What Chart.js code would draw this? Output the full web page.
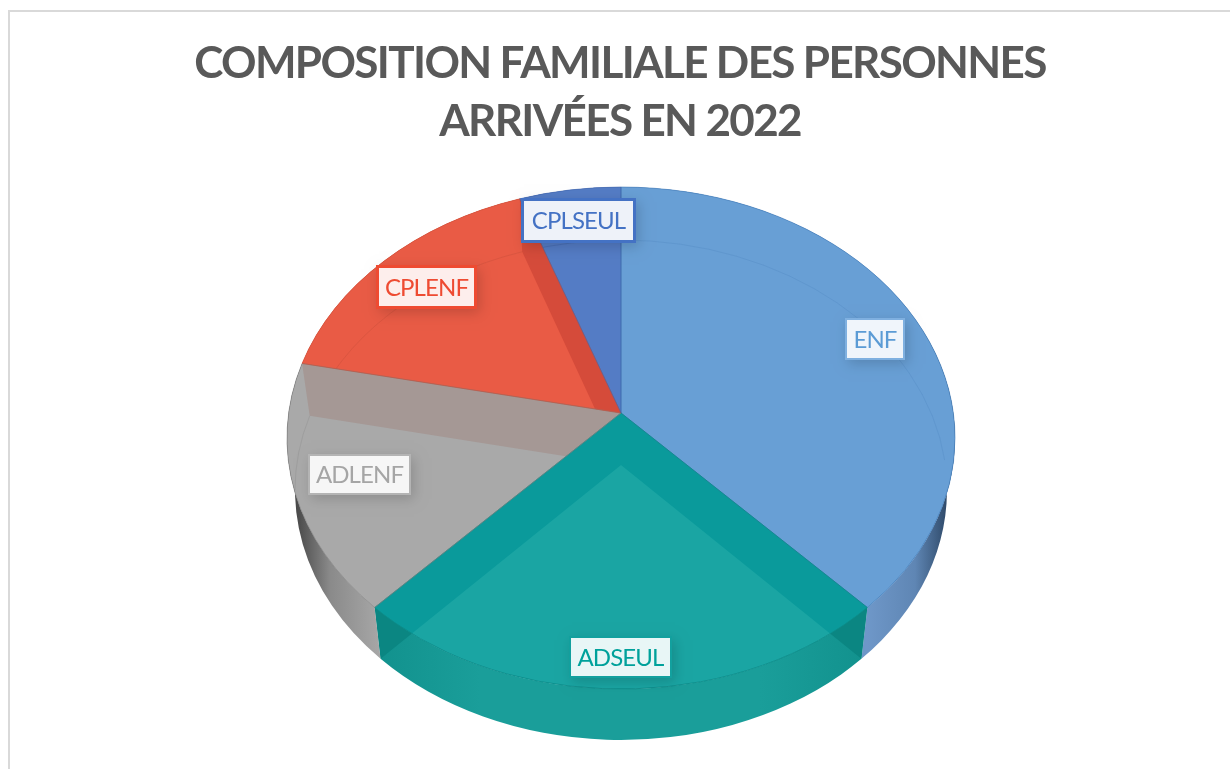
<!DOCTYPE html>
<html><head><meta charset="utf-8">
<style>html,body{margin:0;padding:0;background:#fff;overflow:hidden}#wrap{width:1230px;height:769px;position:relative}</style>
<script src="https://cdn.jsdelivr.net/npm/chart.js@4"></script>
</head><body><div id="wrap"><canvas id="c" width="1230" height="769"></canvas></div>
<script>
const titleLines = ['COMPOSITION FAMILIALE DES PERSONNES', 'ARRIVÉES EN 2022'];
const categories = ['ENF', 'ADSEUL', 'ADLENF', 'CPLENF', 'CPLSEUL'];
const shares = [36.8, 26.4, 16.6, 15.3, 4.9];
const faceColors = ['#689FD5', '#1AA5A3', '#A9A9A9', '#E95B45', '#547CC5'];
const innerWallColors = [null, '#0A9A9B', '#A59895', '#D54B3A', null];
const cornerColors = [null, '#0B8682', null, null, null];
const rimColors = ['#3F78B5', '#0A8A88', '#808080', '#C9503C', '#3F62A8'];
const floorAlpha = [.2, .3, .25, .45, .45];
const labelColors = ['#5B9BD5', '#00A19B', '#A5A5A5', '#EE4B32', '#4472C4'];
const labelBorders = ['#7FB0E0', '#12A09E', '#B4B4B4', '#EE4B32', '#4472C4'];
const labelBorderWidths = [2, 2, 2, 3, 3];
const labelBoxes = [[847,320,56,38],[571,638,99,38],[310,456,99,37],[379,268,95,38],[524,201,109,39]];
const wallStops = [
  [[868,'#6E97C8'],[915,'#5F86B4'],[947,'#2F4A6A']],
  [[382,'#12928E'],[480,'#1A9E9A'],[760,'#1A9E9A'],[862,'#12928E']],
  [[297,'#4A4A4A'],[330,'#8A8A8A'],[382,'#A8A8A8']],
  [[0,'#E95B45'],[1,'#E95B45']],
  [[0,'#547CC5'],[1,'#547CC5']]
];
const TOP = {cx:621, cy:438, rx:334, ry:251, ax:621, ay:413};
const BOT = {cx:621, cy:490, rx:326, ry:250, ax:621, ay:465};

function rim(E,a){return [E.cx+E.rx*Math.cos(a), E.cy+E.ry*Math.sin(a)];}
function sector(ctx,E,a,b){ctx.beginPath();ctx.moveTo(E.ax,E.ay);ctx.ellipse(E.cx,E.cy,E.rx,E.ry,0,a,b);ctx.closePath();}
function outerWall(ctx,a,b){ctx.beginPath();ctx.ellipse(TOP.cx,TOP.cy,TOP.rx,TOP.ry,0,a,b);ctx.ellipse(BOT.cx,BOT.cy,BOT.rx,BOT.ry,0,b,a,true);ctx.closePath();}
function radial(ctx,a){const p=rim(TOP,a),q=rim(BOT,a);ctx.beginPath();ctx.moveTo(TOP.ax,TOP.ay);ctx.lineTo(p[0],p[1]);ctx.lineTo(q[0],q[1]);ctx.lineTo(BOT.ax,BOT.ay);ctx.closePath();}

const pie3d = {
  id:'pie3d',
  beforeDatasetsDraw(chart){
    const ctx=chart.ctx, arc=chart.getDatasetMeta(0).data[0];
    ctx.save();
    ctx.translate(TOP.cx,TOP.cy);
    ctx.scale(TOP.rx/arc.outerRadius,TOP.ry/arc.outerRadius);
    ctx.translate(-arc.x,-arc.y);
  },
  afterDatasetsDraw(chart){
    const ctx=chart.ctx, arcs=chart.getDatasetMeta(0).data;
    ctx.restore();
    // outer walls
    arcs.forEach((el,i)=>{
      const st=wallStops[i], x0=st[0][0], x1=st[st.length-1][0];
      const g=ctx.createLinearGradient(x0,0,x1,0);
      st.forEach(s=>g.addColorStop((s[0]-x0)/(x1-x0||1),s[1]));
      ctx.fillStyle=g;outerWall(ctx,el.startAngle,el.endAngle);ctx.fill();
    });
    // top faces
    arcs.forEach((el,i)=>{ctx.fillStyle=faceColors[i];sector(ctx,TOP,el.startAngle,el.endAngle);ctx.fill();});
    // radial walls seen through the faces
    arcs.forEach((el,i)=>{
      if(innerWallColors[i]){
        ctx.save();sector(ctx,TOP,el.startAngle,el.endAngle);ctx.clip();
        ctx.fillStyle=innerWallColors[i];
        radial(ctx,el.startAngle);ctx.fill();radial(ctx,el.endAngle);ctx.fill();
        ctx.restore();
      }
      if(cornerColors[i]){
        ctx.save();outerWall(ctx,el.startAngle,el.endAngle);ctx.clip();
        ctx.fillStyle=cornerColors[i];
        radial(ctx,el.startAngle);ctx.fill();radial(ctx,el.endAngle);ctx.fill();
        ctx.restore();
      }
    });
    // floor rim seen through faces (back half only)
    arcs.forEach((el,i)=>{
      ctx.save();sector(ctx,TOP,el.startAngle,el.endAngle);ctx.clip();
      ctx.strokeStyle=rimColors[i];ctx.globalAlpha=floorAlpha[i];ctx.lineWidth=1;
      [[-Math.PI,-0.12],[Math.PI,2*Math.PI]].forEach(r=>{
        const lo=Math.max(el.startAngle,r[0]),hi=Math.min(el.endAngle,r[1]);
        if(hi>lo){ctx.beginPath();ctx.ellipse(BOT.cx,BOT.cy,BOT.rx,BOT.ry,0,lo,hi);ctx.stroke();}
      });
      ctx.restore();
    });
    // edges
    arcs.forEach((el,i)=>{
      ctx.strokeStyle=rimColors[i];ctx.lineWidth=0.8;ctx.globalAlpha=i===1?1:.7;
      sector(ctx,TOP,el.startAngle,el.endAngle);ctx.stroke();ctx.globalAlpha=1;
    });
    // labels
    ctx.font='24px Lato, "Open Sans", sans-serif';ctx.letterSpacing='-0.9px';ctx.textAlign='center';ctx.textBaseline='middle';
    categories.forEach((name,i)=>{
      const [x,y,w,h]=labelBoxes[i], b=labelBorderWidths[i];
      ctx.save();
      ctx.shadowColor='rgba(0,0,0,.16)';ctx.shadowBlur=12;ctx.shadowOffsetX=3;ctx.shadowOffsetY=4;
      ctx.fillStyle=labelBorders[i];ctx.fillRect(x-b,y-b,w+2*b,h+2*b);
      ctx.restore();
      ctx.fillStyle='#fff';ctx.fillRect(x,y,w,h);
      ctx.fillStyle=faceColors[i];ctx.globalAlpha=.1;ctx.fillRect(x,y,w,h);ctx.globalAlpha=1;
      ctx.fillStyle=labelColors[i];ctx.fillText(name,x+w/2,y+h/2+1);
    });
    ctx.letterSpacing='0px';
  }
};
const frame = {
  id:'frame',
  beforeDraw(chart){
    const ctx=chart.ctx;ctx.save();ctx.fillStyle='#fff';ctx.fillRect(0,0,1230,769);
    ctx.strokeStyle='#D9D9D9';ctx.lineWidth=2;
    ctx.beginPath();ctx.moveTo(9,769);ctx.lineTo(9,11);ctx.lineTo(1230,11);ctx.stroke();ctx.restore();
    ctx.letterSpacing='-1.65px';
  },
  beforeDatasetsDraw(chart){chart.ctx.letterSpacing='0px';}
};
new Chart(document.getElementById('c'),{
  type:'pie',
  data:{labels:categories,datasets:[{data:shares,backgroundColor:faceColors,borderWidth:0}]},
  plugins:[frame,pie3d],
  options:{
    responsive:false,animation:false,
    layout:{padding:{left:10,top:20}},
    events:[],
    plugins:{
      legend:{display:false},tooltip:{enabled:false},
      title:{display:true,text:titleLines,color:'#595959',padding:{top:15,bottom:10},
        font:{family:'Lato, "Open Sans", sans-serif',size:44,weight:'bold',lineHeight:1.32}}
    }
  }
});
</script></body></html>
